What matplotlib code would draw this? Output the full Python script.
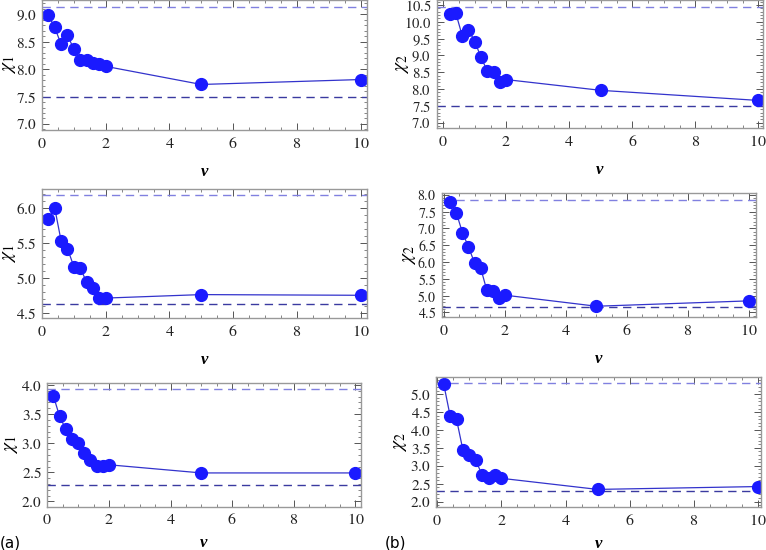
import matplotlib
matplotlib.use("Agg")
import matplotlib.pyplot as plt
from matplotlib.ticker import MultipleLocator

plt.rcParams['font.family'] = 'serif'
plt.rcParams['font.serif'] = ['Liberation Serif', 'DejaVu Serif']
plt.rcParams['mathtext.fontset'] = 'stix'

nu = [0.2, 0.4, 0.6, 0.8, 1.0, 1.2, 1.4, 1.6, 1.8, 2.0, 5, 10]

chi1_top = [8.98, 8.76, 8.45, 8.62, 8.36, 8.16, 8.16, 8.12, 8.10, 8.05, 7.72, 7.81]
chi2_top = [10.23, 10.25, 9.59, 9.77, 9.41, 8.94, 8.53, 8.51, 8.21, 8.28, 7.96, 7.66]
chi1_mid = [5.84, 6.00, 5.53, 5.42, 5.16, 5.14, 4.94, 4.86, 4.71, 4.71, 4.76, 4.75]
chi2_mid = [7.80, 7.47, 6.88, 6.45, 5.97, 5.82, 5.16, 5.14, 4.94, 5.01, 4.68, 4.84]
chi1_bot = [3.81, 3.46, 3.24, 3.07, 3.01, 2.84, 2.71, 2.61, 2.61, 2.63, 2.49, 2.49]
chi2_bot = [5.29, 4.40, 4.30, 3.44, 3.29, 3.15, 2.74, 2.67, 2.74, 2.65, 2.34, 2.42]

# Grenzen (gestrichelt): oben, unten
bounds_1_top = (9.14, 7.49)
bounds_2_top = (10.45, 7.49)
bounds_1_mid = (6.19, 4.63)
bounds_2_mid = (7.85, 4.66)
bounds_1_bot = (3.94, 2.28)
bounds_2_bot = (5.32, 2.29)

W, H = 766, 550
fig = plt.figure(figsize=(W / 100, H / 100), dpi=100)

# (x0, x1, y0, y1) in Pixel, xlim, ylim, data, bounds, label, label-x (axes coords), y tick size, xlabel pad
panels = [
    ((42, 367, 0, 130), (0, 10.2), (6.89, 9.26), chi1_top, bounds_1_top, r'$\chi_1$', -0.1, 11, 9),
    ((437, 763, 0, 128.3), (-0.2, 10.15), (6.83, 10.65), chi2_top, bounds_2_top, r'$\chi_2$', -0.107, 10.5, 9),
    ((42, 367, 189.3, 318.3), (0, 10.2), (4.42, 6.27), chi1_mid, bounds_1_mid, r'$\chi_1$', -0.1, 11, 9),
    ((442, 755.7, 193.3, 317.3), (-0.07, 10.23), (4.35, 8.05), chi2_mid, bounds_2_mid, r'$\chi_2$', -0.105, 10, 9),
    ((47.3, 360.7, 382.7, 506.7), (0, 10.17), (1.91, 4.04), chi1_bot, bounds_1_bot, r'$\chi_1$', -0.115, 11, 5),
    ((436.3, 761.3, 376.7, 507.3), (-0.03, 10.1), (1.84, 5.49), chi2_bot, bounds_2_bot, r'$\chi_2$', -0.11, 11, 5),
]

for (x0, x1, y0, y1), xl, yl, vals, (b_hi, b_lo), lab, lx, ysz, xpad in panels:
    ax = fig.add_axes([x0 / W, 1 - y1 / H, (x1 - x0) / W, (y1 - y0) / H])
    ax.axhline(b_hi, color='#8080e0', lw=1.0, dashes=(6, 4))
    ax.axhline(b_lo, color='#3a3aa0', lw=1.0, dashes=(6, 4))
    ax.plot(nu, vals, '-', color='#3333cc', lw=0.9)
    ax.plot(nu, vals, 'o', color='#1a1aff', ms=8.5, mec='#1a1aff')
    ax.set_xlim(*xl)
    ax.set_ylim(*yl)
    ax.xaxis.set_major_locator(MultipleLocator(2))
    ax.xaxis.set_minor_locator(MultipleLocator(0.5))
    ax.yaxis.set_major_locator(MultipleLocator(0.5))
    ax.yaxis.set_minor_locator(MultipleLocator(0.1))
    ax.xaxis.set_major_formatter(plt.FuncFormatter(lambda v, p: r"$\mathrm{%d}$" % round(v)))
    ax.yaxis.set_major_formatter(plt.FuncFormatter(lambda v, p: r"$\mathrm{%.1f}$" % v))
    ax.tick_params(which='both', direction='in', top=True, right=True,
                   color='#555555', labelcolor='#222222', pad=4)
    ax.tick_params(axis='x', labelsize=11.5)
    ax.tick_params(axis='y', labelsize=ysz)
    ax.tick_params(which='major', length=5, width=0.7)
    ax.tick_params(which='minor', length=2.5, width=0.5)
    for s in ax.spines.values():
        s.set_color('#999999')
        s.set_linewidth(1.0)
    ax.set_ylabel(lab, fontsize=14, va='center')
    ax.yaxis.set_label_coords(lx, 0.5)
    ax.set_xlabel('ν', fontsize=12, fontstyle='italic', fontweight='bold', labelpad=xpad)

fig.text(0 / W, 1 - 548 / H, '(a)', family='DejaVu Sans', fontsize=11)
fig.text(385 / W, 1 - 548 / H, '(b)', family='DejaVu Sans', fontsize=11)

fig.savefig('out.png', dpi=100)
